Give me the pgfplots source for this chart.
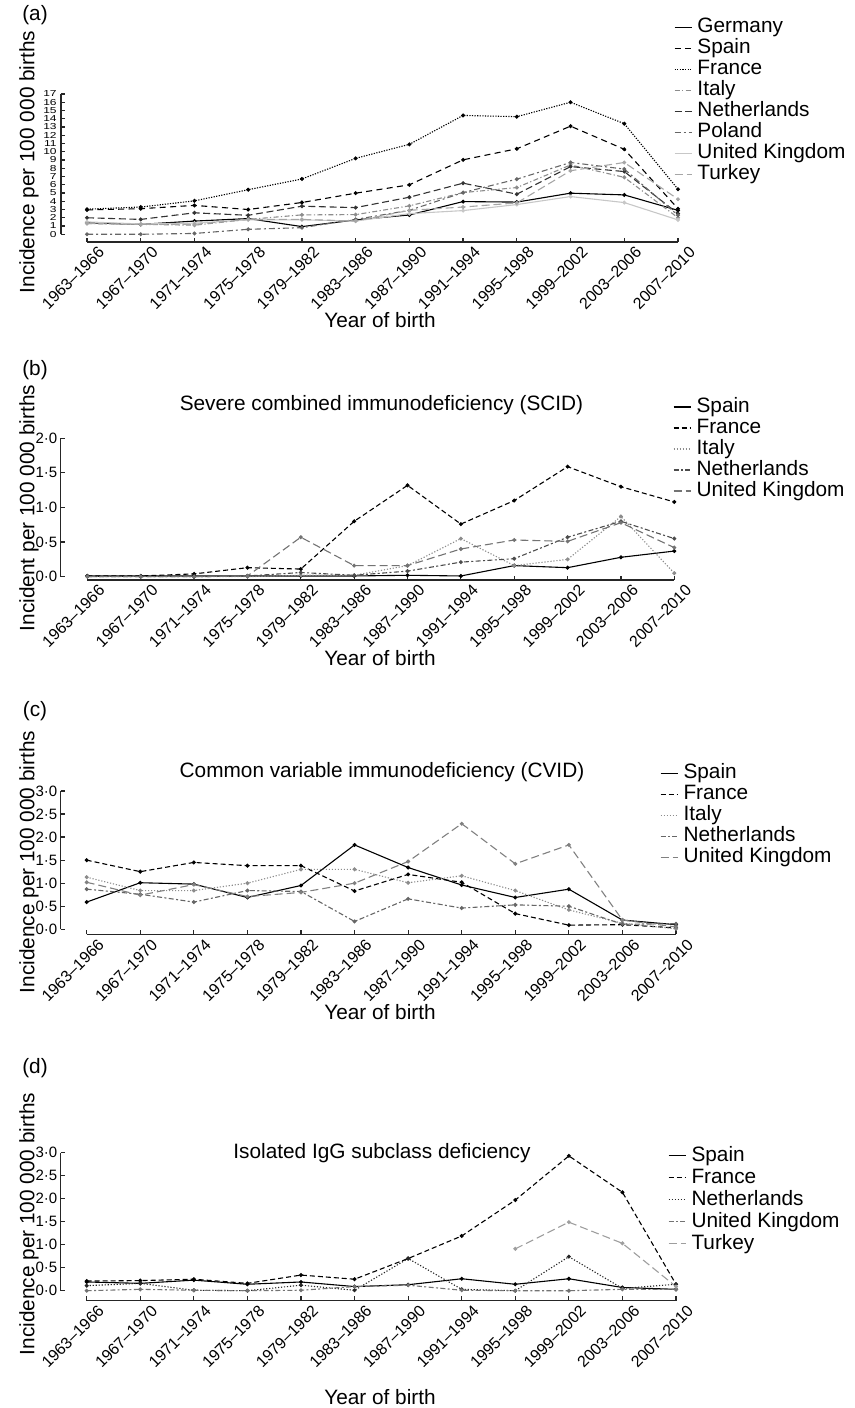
\documentclass[border=0pt]{standalone}
\usepackage{fontspec}
\setmainfont{Liberation Sans}
\usepackage{pgfplots}
\pgfplotsset{compat=1.18}

\pgfplotsset{
  panel/.style={
    scale only axis, clip=false,
    axis lines*=left, axis line style={draw=none},
    tick align=inside, major tick length=2.2pt,
    tick style={black!85, line width=0.6pt},
    xmax=11, xtick={0,...,11},
    xticklabels={1963–1966,1967–1970,1971–1974,1975–1978,1979–1982,1983–1986,1987–1990,1991–1994,1995–1998,1999–2002,2003–2006,2007–2010},
    xticklabel style={font=\fontsize{8}{8}\selectfont, xshift=8pt, yshift=-3pt, rotate=45, anchor=east, inner sep=1pt},
    yticklabel style={font=\fontsize{7.5}{8}\selectfont, inner sep=1.5pt},
    every axis plot/.append style={line width=0.55pt, mark=*, mark size=0.7pt, mark options={solid}},
    legend cell align=left,
    legend style={draw=none, fill=none, inner sep=0pt, outer sep=0pt,
      font=\fontsize{10.4}{10.4}\selectfont, row sep=0pt, anchor=north west,
      nodes={inner sep=0.5pt, text height=7.3pt, text depth=2.2pt},
      /tikz/every odd column/.append style={column sep=2.2pt}},
    legend image code/.code={\draw[#1, mark=none] (0pt,0pt) -- (8.5pt,0pt);},
  },
}

\begin{document}
\begin{tikzpicture}
\useasboundingbox (0,0) rectangle (427.5pt,704pt);

% ---------------- (a) ----------------
\begin{axis}[panel,
  at={(30.5pt,583pt)}, anchor=south west,
  width=308.5pt, height=74pt,
  xmin=-0.484, ymin=-0.935, ymax=17,
  ytick={0,...,17},
  yticklabel style={font=\fontsize{6}{6}\selectfont, inner sep=2pt},
  yticklabel={\scalebox{1}[0.72]{\pgfmathprintnumber[assume math mode=true]{\tick}}},
  legend style={at={(0.9935,1.523)}},
]
\draw[black!85, line width=0.7pt] (axis cs:-0.484,0) -- (axis cs:-0.484,17);
\draw[black!85, line width=0.7pt] (axis cs:0,-0.935) -- (axis cs:11,-0.935);
\addplot[black, solid] coordinates {(0,1.4)(1,1.2)(2,1.6)(3,1.9)(4,0.93)(5,1.74)(6,2.34)(7,3.96)(8,3.9)(9,4.98)(10,4.77)(11,2.9)};
\addlegendentry{Germany}
\addplot[black, dash pattern=on 3pt off 2.2pt] coordinates {(0,2.95)(1,3.1)(2,3.5)(3,3.0)(4,3.85)(5,4.98)(6,5.99)(7,9.02)(8,10.36)(9,13.1)(10,10.3)(11,3.1)};
\addlegendentry{Spain}
\addplot[black, dash pattern=on 0.6pt off 0.7pt] coordinates {(0,3.04)(1,3.3)(2,4.05)(3,5.4)(4,6.7)(5,9.2)(6,10.9)(7,14.4)(8,14.25)(9,16.0)(10,13.4)(11,5.46)};
\addlegendentry{France}
\addplot[black!45, dash pattern=on 2.5pt off 1.2pt on 0.6pt off 1.2pt] coordinates {(0,1.3)(1,1.2)(2,1.1)(3,1.8)(4,2.35)(5,2.38)(6,3.44)(7,5.05)(8,5.66)(9,8.4)(10,6.9)(11,2.0)};
\addlegendentry{Italy}
\addplot[black!80, dash pattern=on 3.5pt off 1.8pt] coordinates {(0,2.0)(1,1.8)(2,2.6)(3,2.3)(4,3.4)(5,3.23)(6,4.49)(7,6.19)(8,4.86)(9,8.2)(10,7.6)(11,2.5)};
\addlegendentry{Netherlands}
\addplot[black!60, dash pattern=on 3pt off 1.5pt on 1pt off 1.5pt] coordinates {(0,0)(1,0)(2,0.1)(3,0.6)(4,0.8)(5,1.8)(6,2.9)(7,5.05)(8,6.68)(9,8.7)(10,7.9)(11,2.3)};
\addlegendentry{Poland}
\addplot[black!22, solid] coordinates {(0,1.5)(1,1.25)(2,1.35)(3,1.75)(4,1.75)(5,1.6)(6,2.5)(7,2.87)(8,3.6)(9,4.57)(10,3.84)(11,1.74)};
\addlegendentry{United Kingdom}
\addplot[black!35, dash pattern=on 4pt off 2pt] coordinates {(0,1.3)(1,1.2)(2,1.2)(3,1.8)(4,1.8)(5,1.6)(6,2.9)(7,3.3)(8,3.8)(9,7.7)(10,8.7)(11,4.25)};
\addlegendentry{Turkey}
\end{axis}

% ---------------- (b) ----------------
\begin{axis}[panel,
  at={(30.35pt,414pt)}, anchor=south west,
  width=306.8pt, height=70.85pt,
  xmin=-0.5, ymin=-0.048, ymax=2,
  ytick={0,0.5,1,1.5,2}, yticklabels={0·0,0·5,1·0,1·5,2·0},
  legend style={at={(0.998,1.295)}},
]
\draw[black!85, line width=0.7pt] (axis cs:-0.5,0) -- (axis cs:-0.5,2);
\draw[black!85, line width=0.7pt] (axis cs:0,-0.048) -- (axis cs:11,-0.048);
\addplot[black, solid] coordinates {(0,0.01)(1,0.01)(2,0.01)(3,0.01)(4,0.01)(5,0.01)(6,0.02)(7,0.01)(8,0.16)(9,0.13)(10,0.28)(11,0.37)};
\addlegendentry{Spain}
\addplot[black, dash pattern=on 2.5pt off 1.5pt] coordinates {(0,0.01)(1,0.01)(2,0.04)(3,0.13)(4,0.11)(5,0.80)(6,1.32)(7,0.76)(8,1.10)(9,1.59)(10,1.30)(11,1.08)};
\addlegendentry{France}
\addplot[black!45, dash pattern=on 0.6pt off 0.9pt] coordinates {(0,0)(1,0)(2,0)(3,0)(4,0.02)(5,0.02)(6,0.16)(7,0.55)(8,0.16)(9,0.25)(10,0.87)(11,0.05)};
\addlegendentry{Italy}
\addplot[black!70, dash pattern=on 2.5pt off 1.2pt on 1pt off 1.2pt] coordinates {(0,0)(1,0)(2,0)(3,0.01)(4,0.06)(5,0.02)(6,0.08)(7,0.21)(8,0.26)(9,0.57)(10,0.80)(11,0.55)};
\addlegendentry{Netherlands}
\addplot[black!55, dash pattern=on 4pt off 2pt] coordinates {(0,0)(1,0)(2,0)(3,0.01)(4,0.57)(5,0.16)(6,0.16)(7,0.40)(8,0.53)(9,0.51)(10,0.78)(11,0.42)};
\addlegendentry{United Kingdom}
\end{axis}

% ---------------- (c) ----------------
\begin{axis}[panel,
  at={(30.35pt,236.75pt)}, anchor=south west,
  width=307.65pt, height=71.75pt,
  xmin=-0.485, ymin=-0.113, ymax=3,
  ytick={0,0.5,1,1.5,2,2.5,3}, yticklabels={0·0,0·5,1·0,1·5,2·0,2·5,3·0},
  legend style={at={(0.974,1.197)}},
]
\draw[black!85, line width=0.7pt] (axis cs:-0.485,0) -- (axis cs:-0.485,3);
\draw[black!85, line width=0.7pt] (axis cs:0,-0.113) -- (axis cs:11,-0.113);
\addplot[black, solid] coordinates {(0,0.59)(1,1.01)(2,0.98)(3,0.69)(4,0.95)(5,1.83)(6,1.34)(7,0.96)(8,0.69)(9,0.87)(10,0.2)(11,0.1)};
\addlegendentry{Spain}
\addplot[black, dash pattern=on 2.5pt off 1.5pt] coordinates {(0,1.5)(1,1.25)(2,1.45)(3,1.38)(4,1.38)(5,0.83)(6,1.19)(7,1.02)(8,0.34)(9,0.09)(10,0.1)(11,0.03)};
\addlegendentry{France}
\addplot[black!45, dash pattern=on 0.6pt off 0.9pt] coordinates {(0,1.13)(1,0.84)(2,0.84)(3,1.0)(4,1.3)(5,1.3)(6,1.01)(7,1.16)(8,0.84)(9,0.42)(10,0.13)(11,0.01)};
\addlegendentry{Italy}
\addplot[black!60, dash pattern=on 2.5pt off 1.2pt on 1pt off 1.2pt] coordinates {(0,0.87)(1,0.76)(2,0.59)(3,0.84)(4,0.82)(5,0.17)(6,0.66)(7,0.46)(8,0.53)(9,0.5)(10,0.11)(11,0.12)};
\addlegendentry{Netherlands}
\addplot[black!50, dash pattern=on 4pt off 2pt] coordinates {(0,1.02)(1,0.74)(2,0.97)(3,0.71)(4,0.8)(5,1.0)(6,1.47)(7,2.29)(8,1.42)(9,1.83)(10,0.2)(11,0.05)};
\addlegendentry{United Kingdom}
\end{axis}

% ---------------- (d) ----------------
\begin{axis}[panel,
  at={(30.35pt,53.65pt)}, anchor=south west,
  width=307.65pt, height=74pt,
  xmin=-0.485, ymin=-0.217, ymax=3,
  ytick={0,0.5,1,1.5,2,2.5,3}, yticklabels={0·0,0·5,1·0,1·5,2·0,2·5,3·0},
  legend style={at={(0.987,1.053)}, nodes={text height=7.6pt, text depth=2.4pt}},
]
\draw[black!85, line width=0.7pt] (axis cs:-0.485,0) -- (axis cs:-0.485,3);
\draw[black!85, line width=0.7pt] (axis cs:0,-0.217) -- (axis cs:11,-0.217);
\addplot[black, solid] coordinates {(0,0.19)(1,0.16)(2,0.23)(3,0.14)(4,0.19)(5,0.09)(6,0.13)(7,0.26)(8,0.14)(9,0.26)(10,0.07)(11,0.03)};
\addlegendentry{Spain}
\addplot[black, dash pattern=on 2.5pt off 1.5pt] coordinates {(0,0.21)(1,0.22)(2,0.25)(3,0.16)(4,0.34)(5,0.25)(6,0.7)(7,1.19)(8,1.97)(9,2.93)(10,2.14)(11,0.14)};
\addlegendentry{France}
\addplot[black!85, dash pattern=on 0.6pt off 0.9pt] coordinates {(0,0.11)(1,0.16)(2,0.01)(3,0)(4,0.12)(5,0.01)(6,0.7)(7,0.03)(8,0)(9,0.74)(10,0.05)(11,0.14)};
\addlegendentry{Netherlands}
\addplot[black!55, dash pattern=on 2.5pt off 1.2pt on 1pt off 1.2pt] coordinates {(0,0)(1,0.03)(2,0.01)(3,0)(4,0.01)(5,0.09)(6,0.12)(7,0.01)(8,0)(9,0)(10,0.03)(11,0.03)};
\addlegendentry{United Kingdom}
\addplot[black!38, dash pattern=on 4pt off 2pt] coordinates {(8,0.91)(9,1.49)(10,1.03)(11,0.09)};
\addlegendentry{Turkey}
\end{axis}

% ---------------- texts ----------------
\begin{scope}[every node/.style={font=\fontsize{10.4}{12}\selectfont, inner sep=0pt}]
\node at (17.5pt,696.5pt) {(a)};
\node at (17.5pt,519pt) {(b)};
\node at (17.5pt,348.2pt) {(c)};
\node at (17.5pt,169.8pt) {(d)};
\node[rotate=90] at (14.5pt,623pt) {Incidence per 100 000 births};
\node[rotate=90] at (14.5pt,450pt) {Incident per 100 000 births};
\node[rotate=90] at (14.5pt,273pt) {Incidence per 100 000 births};
\node[rotate=90] at (14.5pt,92pt) {Incidence per 100 000 births};
\node at (190pt,544pt) {Year of birth};
\node at (190pt,375pt) {Year of birth};
\node at (190pt,198pt) {Year of birth};
\node at (190pt,5.5pt) {Year of birth};
\node at (190.75pt,501.5pt) {Severe combined immunodeficiency (SCID)};
\node at (191pt,318pt) {Common variable immunodeficiency (CVID)};
\node at (191pt,127.5pt) {Isolated IgG subclass deficiency};
\end{scope}
\end{tikzpicture}
\end{document}
